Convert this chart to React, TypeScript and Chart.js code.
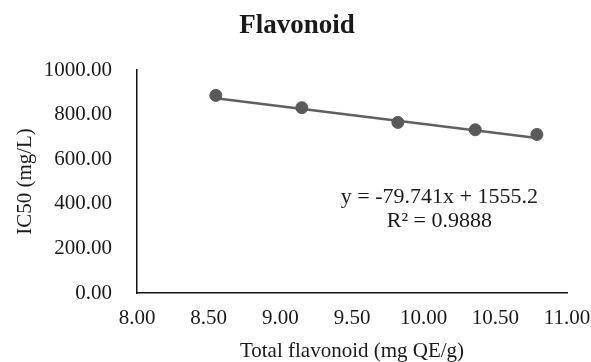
import React, { useEffect, useRef } from "react";
import { Chart, registerables } from "chart.js";

Chart.register(...registerables);

// Measured flavonoid content vs IC50
const flavonoidContent = [8.55, 9.15, 9.82, 10.36, 10.79];
const ic50Values = [886, 831, 765, 732, 711];

// Linear fit reported on the chart
const fitSlope = -79.741;
const fitIntercept = 1555.2;
const fitR2 = 0.9888;

const xTickRange = [8, 11];
const yTickRange = [0, 1000];

const FONT = '"Liberation Serif", "Times New Roman", serif';
const TEXT = "#1a1a1a";

const fitX = [Math.min(...flavonoidContent), Math.max(...flavonoidContent)];
const fitPoints = fitX.map((x) => ({ x, y: fitSlope * x + fitIntercept }));

const overlayText = {
  id: "overlayText",
  afterDraw(chart: any) {
    const { ctx, scales } = chart;
    ctx.save();
    ctx.fillStyle = TEXT;
    // chart title
    ctx.font = `bold 27px ${FONT}`;
    ctx.textAlign = "center";
    ctx.textBaseline = "alphabetic";
    ctx.fillText("Flavonoid", 297, 33);
    // regression equation
    ctx.font = `22px ${FONT}`;
    const ex = scales.x.getPixelForValue(10.11);
    const ey = scales.y.getPixelForValue(404);
    ctx.fillText(`y = ${fitSlope}x + ${fitIntercept}`, ex, ey);
    ctx.fillText(`R² = ${fitR2}`, ex, ey + 24);
    ctx.restore();
  },
};

export default function App() {
  const ref = useRef<HTMLCanvasElement | null>(null);

  useEffect(() => {
    if (!ref.current) return;
    const chart = new Chart(ref.current, {
      type: "scatter",
      data: {
        datasets: [
          {
            label: "Flavonoid",
            data: flavonoidContent.map((x, i) => ({ x, y: ic50Values[i] })),
            showLine: false,
            backgroundColor: "#595959",
            pointBackgroundColor: "#595959",
            pointBorderColor: "#595959",
            pointRadius: 6,
            order: 1,
          },
          {
            label: "Linear fit",
            data: fitPoints,
            showLine: true,
            borderColor: "#606060",
            borderWidth: 2.5,
            pointRadius: 0,
            order: 2,
          },
        ],
      },
      options: {
        animation: false,
        responsive: true,
        maintainAspectRatio: false,
        layout: { padding: { top: 70, left: 0, right: 24, bottom: 0 } },
        plugins: {
          legend: { display: false },
          title: { display: false },
          tooltip: { enabled: false },
        },
        scales: {
          x: {
            type: "linear",
            min: xTickRange[0],
            max: xTickRange[1],
            grid: { display: false, drawTicks: false },
            border: { display: true, color: "#111", width: 1.5 },
            ticks: {
              stepSize: 0.5,
              padding: 13,
              color: TEXT,
              font: { family: FONT, size: 21 },
              callback: (v: any) => Number(v).toFixed(2),
            },
            title: {
              display: true,
              text: "Total flavonoid (mg QE/g)",
              color: TEXT,
              font: { family: FONT, size: 21, lineHeight: 1 },
              padding: { top: 0, bottom: 0.5 },
            },
            afterFit: (s: any) => {
              s.height = 69;
              s.paddingLeft = 0;
              s.paddingRight = 0;
            },
          },
          y: {
            type: "linear",
            min: yTickRange[0],
            max: yTickRange[1],
            grid: { display: false, drawTicks: false },
            border: { display: true, color: "#111", width: 1.5 },
            ticks: {
              stepSize: 200,
              padding: 25,
              color: TEXT,
              font: { family: FONT, size: 21 },
              callback: (v: any) => Number(v).toFixed(2),
            },
            title: {
              display: true,
              text: "IC50 (mg/L)",
              color: TEXT,
              font: { family: FONT, size: 21, lineHeight: 1 },
              padding: { top: 14.5, bottom: 0 },
            },
            afterFit: (s: any) => {
              s.width = 137;
            },
          },
        },
      },
      plugins: [overlayText],
    });
    return () => chart.destroy();
  }, []);

  return (
    <div style={{ position: "fixed", left: 0, top: 0, width: 591, height: 362, background: "#fff" }}>
      <canvas ref={ref} />
    </div>
  );
}
